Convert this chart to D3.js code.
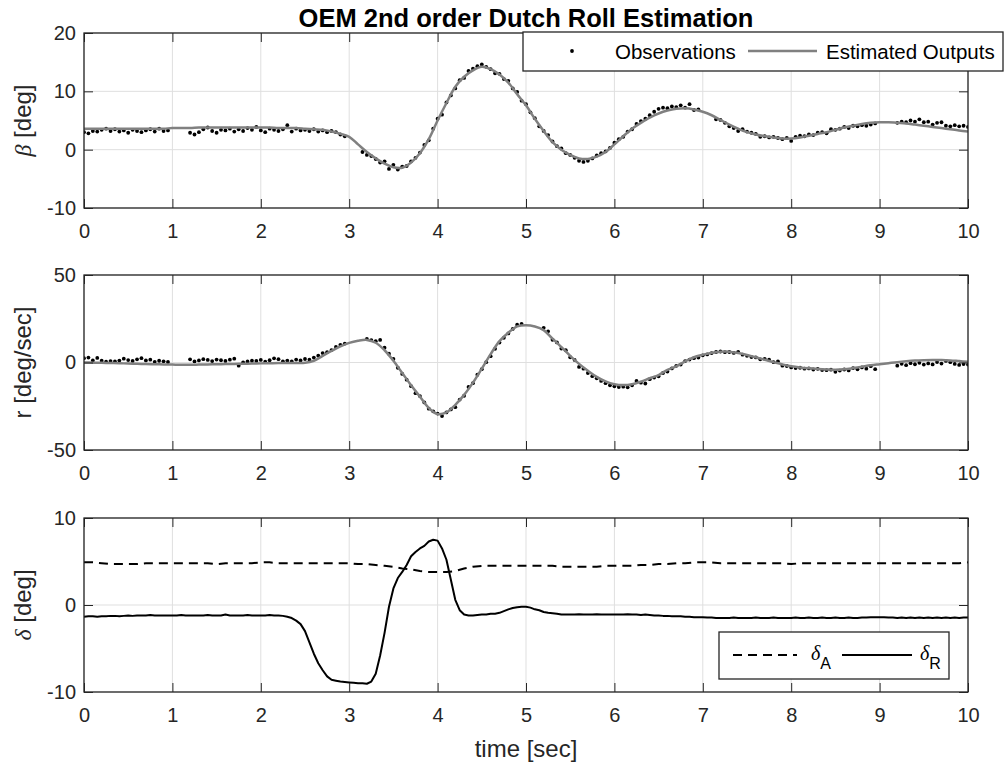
<!DOCTYPE html>
<html>
<head>
<meta charset="utf-8">
<script src="https://cdn.jsdelivr.net/npm/d3@7"></script>
<style>
  body { margin: 0; background: #fff; }
  svg { display: block; }
  text { font-family: Arial, "Liberation Sans", Helvetica, sans-serif; }
</style>
</head>
<body>
<svg id="fig" width="1005" height="771"></svg>
<script>
// ---- time bases -------------------------------------------------------
const obsStep = 0.05;   // sampling of measured signals and rudder trace [s]
const estStep = 0.1;    // sampling of model outputs and aileron trace [s]
const xTicks = [0, 1, 2, 3, 4, 5, 6, 7, 8, 9, 10];

// ---- sideslip beta [deg] ----------------------------------------------
const betaObs = [
  3.0, 2.8, 3.2, 3.1, 3.4, 3.6, 3.2, 3.5, 3.1, 3.3, 2.9, 3.4, 3.2, 3.0, 3.3, 3.5, 3.1, 3.6, 3.2, 3.3,
  null, null, null, null, 2.9, 2.6, 3.0, 3.5, 3.8, 3.2, 2.9, 3.4, 3.3, 3.6, 3.1, 3.5, 3.2, 3.7, 3.4, 3.9,
  3.3, 3.0, 3.6, 3.4, 3.2, 3.5, 4.2, 3.1, 3.6, 3.3, 3.4, 3.2, 3.5, 3.1, 3.3, 3.0, 3.2, 3.0, 2.6, 2.3,
  null, null, null, -0.4, -0.9, -1.1, -1.6, -2.2, -2.0, -3.3, -2.6, -3.4, -2.9, -2.8, -2.0, -1.4, -0.5, 0.8, 1.6, 3.6,
  5.3, 6.0, 8.1, 9.3, 10.5, 11.9, 12.3, 13.5, 13.9, 14.3, 14.6, 14.2, 13.8, 13.1, 13.0, 12.1, 11.8, 10.5, 9.9, 8.4,
  7.8, 6.4, 5.4, 4.0, 3.2, 2.5, 1.4, 0.6, 0.2, -0.6, -0.9, -1.4, -1.9, -2.1, -1.9, -1.5, -1.0, -0.6, -0.3, 0.3,
  1.2, 1.8, 2.2, 3.1, 3.5, 4.4, 4.9, 5.3, 5.9, 6.5, 7.0, 7.2, 7.1, 7.4, 7.3, 7.6, 7.2, 7.8, 6.8, 6.9,
  null, null, null, 5.2, 5.1, 4.6, 4.0, 3.7, 3.2, 3.5, 3.1, 2.9, 2.7, 2.2, 2.3, 2.1, 2.2, 2.0, 1.8, 2.0,
  1.5, 2.2, 2.4, 2.3, 2.6, 2.5, 2.9, 3.0, 2.8, 3.5, 3.4, 3.6, 3.9, 3.7, 4.1, 4.0, 4.2, 4.1, 4.3, 4.5,
  null, null, null, null, 4.6, 4.8, 4.7, 5.0, 4.8, 5.2, 4.7, 4.8, 4.3, 4.6, 4.7, 4.1, 4.0, 4.2, 4.0, 4.1,
  3.9
];
const betaEst = [
  3.6, 3.6, 3.6, 3.6, 3.6, 3.6, 3.6, 3.6, 3.6, 3.6,
  3.7, 3.7, 3.7, 3.8, 3.8, 3.8, 3.8, 3.8, 3.8, 3.8,
  3.8, 3.8, 3.7, 3.7, 3.7, 3.6, 3.5, 3.4, 3.1, 2.7,
  2.2, 0.9, -0.4, -1.5, -2.4, -3.0, -3.1, -2.2, -0.6, 1.8,
  5.0, 8.0, 10.8, 12.5, 13.6, 14.2, 13.8, 12.9, 11.5, 9.5,
  7.6, 5.3, 3.2, 1.3, 0.0, -0.9, -1.5, -1.6, -1.2, -0.4,
  0.9, 2.3, 3.6, 4.6, 5.5, 6.2, 6.7, 7.0, 7.1, 6.9,
  6.5, 5.9, 5.1, 4.3, 3.6, 3.0, 2.6, 2.3, 2.1, 1.9,
  1.9, 2.1, 2.4, 2.7, 3.0, 3.4, 3.8, 4.1, 4.4, 4.6,
  4.7, 4.7, 4.6, 4.5, 4.3, 4.1, 3.9, 3.7, 3.5, 3.3,
  3.1
];

// ---- yaw rate r [deg/sec] ---------------------------------------------
const rObs = [
  2.5, 2.8, 1.2, 2.6, 1.0, 0.5, 0.8, 0.6, 1.1, 2.2, 1.4, 0.9, 1.8, 2.5, 1.2, 1.6, 0.4, 1.0, 0.7, 0.3,
  null, null, null, null, 1.8, 0.6, 1.2, 1.9, 1.5, 0.8, 1.7, 1.3, 0.9, 1.6, 2.2, -1.8, 0.1, 0.6, 1.0, 0.9,
  1.5, 0.5, 1.3, 2.4, 1.9, 0.7, 1.1, 0.6, 1.7, 1.2, 2.0, 1.6, 2.8, 3.9, 5.4, 5.9, 7.1, 8.9, 10.1, 10.8,
  null, null, null, null, 13.5, 12.8, 12.2, 12.9, 8.5, 5.0, 2.0, -3.0, -6.5, -9.8, -13.5, -17.5, -19.2, -22.8, -26.4, -27.9,
  -29.2, -30.6, -28.5, -26.8, -25.5, -21.2, -19.0, -14.0, -11.8, -7.0, -3.8, 0.2, 3.6, 7.8, 11.4, 14.1, 16.6, 19.2, 21.6, 22.0,
  null, null, null, null, 19.8, 17.8, 13.0, 11.5, 8.0, 7.0, 3.0, 1.5, -2.5, -3.5, -6.0, -7.8, -9.0, -10.5, -11.8, -13.0,
  -13.6, -14.0, -13.8, -14.2, -13.0, -10.5, -11.5, -12.0, -9.5, -8.6, -7.9, -6.0, -5.2, -3.4, -1.9, -1.2, 0.8, 1.7, 2.5, 2.8,
  4.1, 4.6, 5.4, 6.0, 6.3, 5.9, 6.0, 5.5, 6.1, 4.5, 3.8, 3.1, 2.9, 1.8, 2.1, 1.6, 0.2, 0.7, -1.8, -2.0,
  -2.8, -3.2, -3.0, -3.5, -3.4, -4.0, -3.6, -4.3, -4.4, -4.1, -5.3, -4.6, -4.0, -4.5, -3.2, -3.9, -2.8, -3.5, -2.1, -3.8,
  null, null, null, null, -1.8, -0.7, -1.5, -0.4, -1.0, -0.2, -1.2, -0.5, -1.1, 0.3, -0.6, 0.9, 0.2, -0.8, -1.4, -0.9,
  -1.2
];
const rEst = [
  0.0, -0.1, -0.2, -0.3, -0.4, -0.6, -0.7, -0.9, -1.0, -1.1,
  -1.2, -1.3, -1.3, -1.2, -1.1, -1.0, -0.9, -0.8, -0.7, -0.6,
  -0.5, -0.4, -0.3, -0.3, -0.3, -0.2, 1.0, 3.8, 6.6, 9.2,
  11.2, 12.4, 12.9, 11.3, 7.0, 1.0, -6.0, -13.0, -19.5, -26.0,
  -29.5, -28.5, -24.2, -18.5, -11.5, -3.5, 4.8, 12.2, 17.0, 20.6,
  21.3, 20.6, 18.5, 13.6, 8.8, 3.8, -0.8, -4.7, -8.2, -10.8,
  -12.4, -12.9, -12.4, -10.9, -9.0, -7.2, -4.2, -2.2, 0.7, 3.0,
  4.4, 5.6, 6.2, 6.2, 5.4, 4.3, 3.0, 1.6, 0.2, -1.1,
  -2.1, -2.8, -3.3, -3.7, -4.0, -4.2, -3.9, -3.2, -2.4, -1.6,
  -1.0, -0.4, 0.2, 0.7, 1.1, 1.3, 1.4, 1.4, 1.2, 0.8,
  0.4
];

// ---- control surface deflections [deg] --------------------------------
const deltaA = [
  4.9, 4.9, 4.8, 4.7, 4.7, 4.7, 4.7, 4.8, 4.8, 4.8,
  4.8, 4.8, 4.8, 4.8, 4.8, 4.7, 4.8, 4.8, 4.8, 4.8,
  4.9, 4.9, 4.8, 4.8, 4.8, 4.8, 4.8, 4.8, 4.8, 4.8,
  4.8, 4.7, 4.7, 4.6, 4.5, 4.4, 4.2, 4.1, 3.9, 3.8,
  3.8, 3.8, 3.9, 4.2, 4.4, 4.5, 4.5, 4.5, 4.5, 4.5,
  4.5, 4.5, 4.5, 4.5, 4.4, 4.4, 4.4, 4.4, 4.4, 4.5,
  4.5, 4.5, 4.5, 4.6, 4.6, 4.7, 4.7, 4.8, 4.8, 4.9,
  4.9, 4.9, 4.8, 4.8, 4.8, 4.8, 4.8, 4.8, 4.8, 4.8,
  4.7, 4.8, 4.8, 4.8, 4.8, 4.8, 4.8, 4.8, 4.8, 4.8,
  4.8, 4.8, 4.8, 4.8, 4.8, 4.8, 4.8, 4.8, 4.8, 4.8,
  4.9
];
const deltaR = [
  -1.35, -1.3, -1.3, -1.35, -1.3, -1.3, -1.25, -1.25, -1.3, -1.25, -1.2, -1.25, -1.2, -1.2, -1.2, -1.15, -1.2, -1.2, -1.2, -1.2,
  -1.2, -1.2, -1.15, -1.2, -1.2, -1.2, -1.2, -1.2, -1.15, -1.2, -1.2, -1.2, -1.1, -1.2, -1.2, -1.2, -1.2, -1.15, -1.2, -1.2,
  -1.2, -1.2, -1.15, -1.2, -1.2, -1.25, -1.35, -1.5, -1.8, -2.2, -3.0, -4.3, -5.6, -6.7, -7.5, -8.2, -8.6, -8.7, -8.8, -8.85,
  -8.9, -8.95, -9.0, -9.0, -9.05, -8.8, -7.9, -5.8, -3.2, -0.2, 1.9, 3.1, 3.8, 4.6, 5.6, 6.1, 6.5, 6.8, 7.3, 7.5,
  7.4, 6.5, 5.2, 2.9, 0.6, -0.6, -1.1, -1.2, -1.2, -1.15, -1.1, -1.1, -1.0, -1.0, -0.9, -0.7, -0.5, -0.35, -0.25, -0.2,
  -0.2, -0.3, -0.5, -0.6, -0.8, -0.9, -0.95, -1.0, -1.1, -1.1, -1.1, -1.1, -1.05, -1.1, -1.1, -1.1, -1.05, -1.1, -1.1, -1.1,
  -1.1, -1.1, -1.1, -1.05, -1.1, -1.1, -1.15, -1.1, -1.15, -1.2, -1.2, -1.25, -1.25, -1.3, -1.3, -1.3, -1.35, -1.35, -1.4, -1.4,
  -1.4, -1.45, -1.45, -1.5, -1.5, -1.5, -1.5, -1.45, -1.5, -1.5, -1.5, -1.5, -1.45, -1.5, -1.5, -1.5, -1.45, -1.5, -1.5, -1.5,
  -1.5, -1.45, -1.5, -1.5, -1.45, -1.5, -1.5, -1.45, -1.5, -1.5, -1.45, -1.5, -1.5, -1.45, -1.5, -1.5, -1.45, -1.45, -1.4, -1.4,
  -1.4, -1.4, -1.45, -1.45, -1.5, -1.45, -1.5, -1.45, -1.5, -1.45, -1.5, -1.45, -1.5, -1.45, -1.5, -1.45, -1.5, -1.45, -1.5, -1.45,
  -1.45
];

// ---- figure layout ----------------------------------------------------
const svg = d3.select("#fig");
const left = 84, right = 968;
const axisColor = "#262626";
const gridColor = "#dfdfdf";
const tickLen = 9;
const fontTick = 20, fontLabel = 24;

const x = d3.scaleLinear().domain([0, 10]).range([left, right]);

const panels = [
  { top: 33,  bottom: 208, domain: [-10, 20], ticks: [-10, 0, 10, 20] },
  { top: 275, bottom: 450, domain: [-50, 50], ticks: [-50, 0, 50] },
  { top: 518, bottom: 692, domain: [-10, 10], ticks: [-10, 0, 10] }
];
panels.forEach(p => { p.y = d3.scaleLinear().domain(p.domain).range([p.bottom, p.top]); });

const withTime = (vals, step) => vals.map((v, i) => ({ t: i * step, v }));
const tickText = d => String(d);   // plain hyphen for negative numbers

// clip paths so traces stay inside each axes box
const defs = svg.append("defs");
panels.forEach((p, i) => {
  defs.append("clipPath").attr("id", "clip" + i)
    .append("rect").attr("x", left).attr("y", p.top)
    .attr("width", right - left).attr("height", p.bottom - p.top);
});

function drawGrid(p) {
  const g = svg.append("g");
  g.selectAll(".gx").data(xTicks).join("line")
    .attr("x1", d => x(d)).attr("x2", d => x(d))
    .attr("y1", p.top).attr("y2", p.bottom)
    .attr("stroke", gridColor).attr("stroke-width", 1);
  g.selectAll(".gy").data(p.ticks).join("line")
    .attr("x1", left).attr("x2", right)
    .attr("y1", d => p.y(d)).attr("y2", d => p.y(d))
    .attr("stroke", gridColor).attr("stroke-width", 1);
}

function drawFrame(p) {
  const styleAxis = sel => {
    sel.select(".domain").remove();
    sel.selectAll(".tick line").attr("stroke", axisColor).attr("stroke-width", 1);
    sel.selectAll(".tick text").attr("fill", axisColor).attr("font-size", fontTick)
      .attr("font-family", "Arial, 'Liberation Sans', sans-serif");
  };
  svg.append("g").attr("transform", `translate(0,${p.bottom})`)
    .call(d3.axisBottom(x).tickValues(xTicks).tickFormat(tickText).tickSizeInner(-tickLen).tickSizeOuter(0).tickPadding(16))
    .call(styleAxis);
  svg.append("g").attr("transform", `translate(0,${p.top})`)
    .call(d3.axisTop(x).tickValues(xTicks).tickFormat("").tickSizeInner(-tickLen).tickSizeOuter(0))
    .call(styleAxis);
  svg.append("g").attr("transform", `translate(${left},0)`)
    .call(d3.axisLeft(p.y).tickValues(p.ticks).tickFormat(tickText).tickSizeInner(-tickLen).tickSizeOuter(0).tickPadding(8))
    .call(styleAxis);
  svg.append("g").attr("transform", `translate(${right},0)`)
    .call(d3.axisRight(p.y).tickValues(p.ticks).tickFormat("").tickSizeInner(-tickLen).tickSizeOuter(0))
    .call(styleAxis);
  svg.append("rect").attr("x", left).attr("y", p.top)
    .attr("width", right - left).attr("height", p.bottom - p.top)
    .attr("fill", "none").attr("stroke", axisColor).attr("stroke-width", 1.3);
}

function yLabel(p, parts) {
  const cy = (p.top + p.bottom) / 2;
  const t = svg.append("text")
    .attr("transform", `translate(31,${cy}) rotate(-90)`)
    .attr("text-anchor", "middle").attr("fill", axisColor).attr("font-size", fontLabel);
  parts.forEach(s => {
    const ts = t.append("tspan").text(s.text);
    if (s.greek) ts.attr("font-family", "'Liberation Serif', 'DejaVu Serif', serif").attr("font-style", "italic");
  });
}

const lineGen = (p) => d3.line().defined(d => d.v !== null)
  .x(d => x(d.t)).y(d => p.y(d.v));

function measuredVsModel(p, idx, obs, est) {
  drawGrid(p);
  const g = svg.append("g").attr("clip-path", `url(#clip${idx})`);
  g.selectAll("circle").data(withTime(obs, obsStep).filter(d => d.v !== null)).join("circle")
    .attr("cx", d => x(d.t)).attr("cy", d => p.y(d.v)).attr("r", 1.9).attr("fill", "#000");
  g.append("path").datum(withTime(est, estStep))
    .attr("d", lineGen(p).curve(d3.curveCatmullRom))
    .attr("fill", "none").attr("stroke", "#808080").attr("stroke-width", 2.5);
  drawFrame(p);
}

// ---- panel 1: beta ----------------------------------------------------
measuredVsModel(panels[0], 0, betaObs, betaEst);
yLabel(panels[0], [{ text: "β", greek: true }, { text: " [deg]" }]);

// ---- panel 2: r ---------------------------------------------------------
measuredVsModel(panels[1], 1, rObs, rEst);
yLabel(panels[1], [{ text: "r [deg/sec]" }]);

// ---- panel 3: control inputs ---------------------------------------------
const p3 = panels[2];
drawGrid(p3);
const g3 = svg.append("g").attr("clip-path", "url(#clip2)");
g3.append("path").datum(withTime(deltaA, estStep))
  .attr("d", lineGen(p3))
  .attr("fill", "none").attr("stroke", "#000").attr("stroke-width", 2)
  .attr("stroke-dasharray", "9,6");
g3.append("path").datum(withTime(deltaR, obsStep))
  .attr("d", lineGen(p3))
  .attr("fill", "none").attr("stroke", "#000").attr("stroke-width", 2)
  .attr("stroke-linejoin", "round");
drawFrame(p3);
yLabel(p3, [{ text: "δ", greek: true }, { text: " [deg]" }]);

// x label
svg.append("text").attr("x", (left + right) / 2).attr("y", 757)
  .attr("text-anchor", "middle").attr("fill", axisColor).attr("font-size", fontLabel)
  .text("time [sec]");

// title
svg.append("text").attr("x", (left + right) / 2).attr("y", 27)
  .attr("text-anchor", "middle").attr("fill", "#000").attr("font-size", 25.5)
  .attr("font-weight", "bold").text("OEM 2nd order Dutch Roll Estimation");

// ---- legend: measured vs model -------------------------------------------
const leg1 = svg.append("g");
leg1.append("rect").attr("x", 523).attr("y", 32).attr("width", 480).attr("height", 39)
  .attr("fill", "#fff").attr("stroke", axisColor).attr("stroke-width", 1.3);
leg1.append("circle").attr("cx", 572).attr("cy", 51).attr("r", 1.9).attr("fill", "#000");
leg1.append("text").attr("x", 615).attr("y", 59).attr("font-size", 20.5).attr("fill", "#000").text("Observations");
leg1.append("line").attr("x1", 748).attr("x2", 817).attr("y1", 51).attr("y2", 51)
  .attr("stroke", "#808080").attr("stroke-width", 2.5);
leg1.append("text").attr("x", 826).attr("y", 59).attr("font-size", 20.5).attr("fill", "#000").text("Estimated Outputs");

// ---- legend: aileron / rudder --------------------------------------------
const leg2 = svg.append("g");
leg2.append("rect").attr("x", 719).attr("y", 632).attr("width", 230).attr("height", 47)
  .attr("fill", "#fff").attr("stroke", axisColor).attr("stroke-width", 1.3);
leg2.append("line").attr("x1", 733).attr("x2", 797).attr("y1", 655).attr("y2", 655)
  .attr("stroke", "#000").attr("stroke-width", 2).attr("stroke-dasharray", "9,6");
leg2.append("line").attr("x1", 842).attr("x2", 912).attr("y1", 655).attr("y2", 655)
  .attr("stroke", "#000").attr("stroke-width", 2);
[{ x: 811, sub: "A" }, { x: 920, sub: "R" }].forEach(s => {
  const t = leg2.append("text").attr("x", s.x).attr("y", 660).attr("font-size", 20).attr("fill", "#000");
  t.append("tspan").attr("font-family", "'Liberation Serif', 'DejaVu Serif', serif")
    .attr("font-style", "italic").text("δ");
  t.append("tspan").attr("dy", 9).attr("font-size", 16).text(s.sub);
});
</script>
</body>
</html>
